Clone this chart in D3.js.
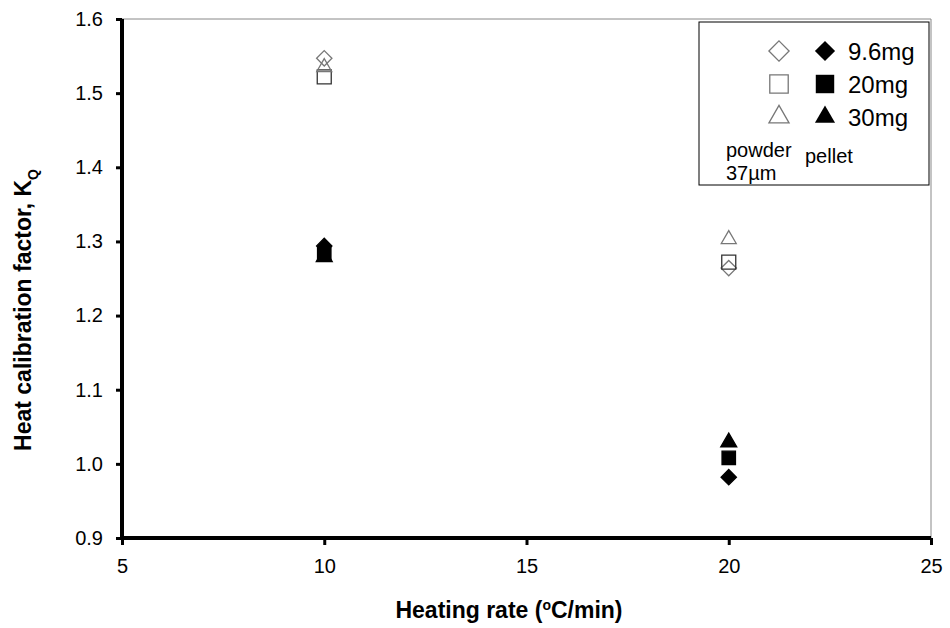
<!DOCTYPE html>
<html>
<head>
<meta charset="utf-8">
<script src="https://cdn.jsdelivr.net/npm/d3@7"></script>
<style>
  body { margin: 0; background: #fff; }
  svg, svg text { font-family: "Liberation Sans", Arial, sans-serif; }
</style>
</head>
<body>
<div id="vis"></div>
<script>
// heating rates and K_Q values
const rates = [10, 20];
const powder96 = [1.547, 1.264];
const powder20 = [1.522, 1.272];
const powder30 = [1.535, 1.303];
const pellet96 = [1.294, 0.982];
const pellet20 = [1.283, 1.008];
const pellet30 = [1.279, 1.029];
const xTicks = [5, 10, 15, 20, 25];
const yTicks = [0.9, 1.0, 1.1, 1.2, 1.3, 1.4, 1.5, 1.6];
const massLabels = ["9.6mg", "20mg", "30mg"];

function draw(){
  const size = {width: 950, height: 628};
  const margin = {left: 122, right: 19, top: 19, bottom: 90};

  const svg = d3.select("#vis").append("svg")
    .attr("width", size.width)
    .attr("height", size.height);

  const x = d3.scaleLinear().domain([5, 25]).range([margin.left, size.width - margin.right]);
  const y = d3.scaleLinear().domain([0.9, 1.6]).range([size.height - margin.bottom, margin.top]);

  // thin frame on top and right
  svg.append("path")
    .attr("d", `M${x(5)},${y(1.6)}H${x(25)}V${y(0.9)}`)
    .attr("fill", "none").attr("stroke", "#888").attr("stroke-width", 1);

  const xAxis = svg.append("g")
    .attr("transform", `translate(0,${y(0.9)})`)
    .call(d3.axisBottom(x).tickValues(xTicks).tickSize(7).tickSizeOuter(0).tickPadding(14).tickFormat(d3.format("d")));
  const yAxis = svg.append("g")
    .attr("transform", `translate(${x(5)},0)`)
    .call(d3.axisLeft(y).tickValues(yTicks).tickSize(6).tickSizeOuter(0).tickPadding(13).tickFormat(d3.format(".1f")));

  [xAxis, yAxis].forEach(a => {
    a.attr("font-family", null);
    a.select(".domain").remove();
    a.selectAll(".tick line").attr("stroke", "#000").attr("stroke-width", 3);
    a.selectAll(".tick text").style("font-size", "20px").style("fill", "#000");
  });

  // thick axis lines
  svg.append("line")
    .attr("x1", x(5)).attr("x2", x(5)).attr("y1", y(1.6)).attr("y2", y(0.9) + 2)
    .attr("stroke", "#000").attr("stroke-width", 4);
  svg.append("line")
    .attr("x1", x(5) - 2).attr("x2", x(25)).attr("y1", y(0.9)).attr("y2", y(0.9))
    .attr("stroke", "#000").attr("stroke-width", 4);

  // axis titles
  const xt = svg.append("text")
    .attr("x", 509).attr("y", 618)
    .attr("text-anchor", "middle")
    .style("font-size", "23px").style("font-weight", "bold");
  xt.append("tspan").text("Heating rate (");
  xt.append("tspan").text("o").attr("dy", -8).style("font-size", "14px");
  xt.append("tspan").text("C/min)").attr("dy", 8);

  const yt = svg.append("text")
    .attr("transform", `translate(31,310) rotate(-90)`)
    .attr("text-anchor", "middle")
    .style("font-size", "23px").style("font-weight", "bold");
  yt.append("tspan").text("Heat calibration factor, K");
  yt.append("tspan").text("Q").attr("dy", 7).style("font-size", "14px");

  const series = [
    {vals: powder96, type: d3.symbolDiamond2, size: 150, fill: "#fff", stroke: "#777"},
    {vals: powder20, type: d3.symbolSquare, size: 196, fill: "none", stroke: "#333"},
    {vals: powder30, type: d3.symbolTriangle, size: 97, fill: "none", stroke: "#777"},
    {vals: pellet96, type: d3.symbolDiamond2, size: 150, fill: "#000", stroke: "#000"},
    {vals: pellet20, type: d3.symbolSquare, size: 180, fill: "#000", stroke: "#000"},
    {vals: pellet30, type: d3.symbolTriangle, size: 110, fill: "#000", stroke: "#000"}
  ];

  series.forEach(s => {
    svg.append("g").selectAll("path")
      .data(rates.map((r, i) => [r, s.vals[i]]))
      .join("path")
      .attr("transform", d => `translate(${x(d[0])},${y(d[1])})`)
      .attr("d", d3.symbol().type(s.type).size(s.size)())
      .attr("fill", s.fill)
      .attr("stroke", s.stroke)
      .attr("stroke-width", 1.3);
  });

  // legend
  const lg = svg.append("g");
  lg.append("rect")
    .attr("x", 699).attr("y", 22).attr("width", 230).attr("height", 163)
    .attr("fill", "#fff").attr("stroke", "#000").attr("stroke-width", 1);

  const legTypes = [d3.symbolDiamond2, d3.symbolSquare, d3.symbolTriangle];
  const legSizes = [260, 340, 175];
  const rowY = [51, 84, 117];
  massLabels.forEach((m, i) => {
    lg.append("path")
      .attr("transform", `translate(779,${rowY[i]})`)
      .attr("d", d3.symbol().type(legTypes[i]).size(legSizes[i])())
      .attr("fill", "#fff").attr("stroke", "#777").attr("stroke-width", 1.3);
    lg.append("path")
      .attr("transform", `translate(825,${rowY[i]})`)
      .attr("d", d3.symbol().type(legTypes[i]).size(legSizes[i])())
      .attr("fill", "#000");
    lg.append("text")
      .attr("x", 848).attr("y", rowY[i] + 9)
      .style("font-size", "24px")
      .text(m);
  });
  lg.append("text").attr("x", 726).attr("y", 157).style("font-size", "20px").text("powder");
  lg.append("text").attr("x", 726).attr("y", 180).style("font-size", "20px").text("37µm");
  lg.append("text").attr("x", 805).attr("y", 163).style("font-size", "20px").text("pellet");
}

draw();
</script>
</body>
</html>
